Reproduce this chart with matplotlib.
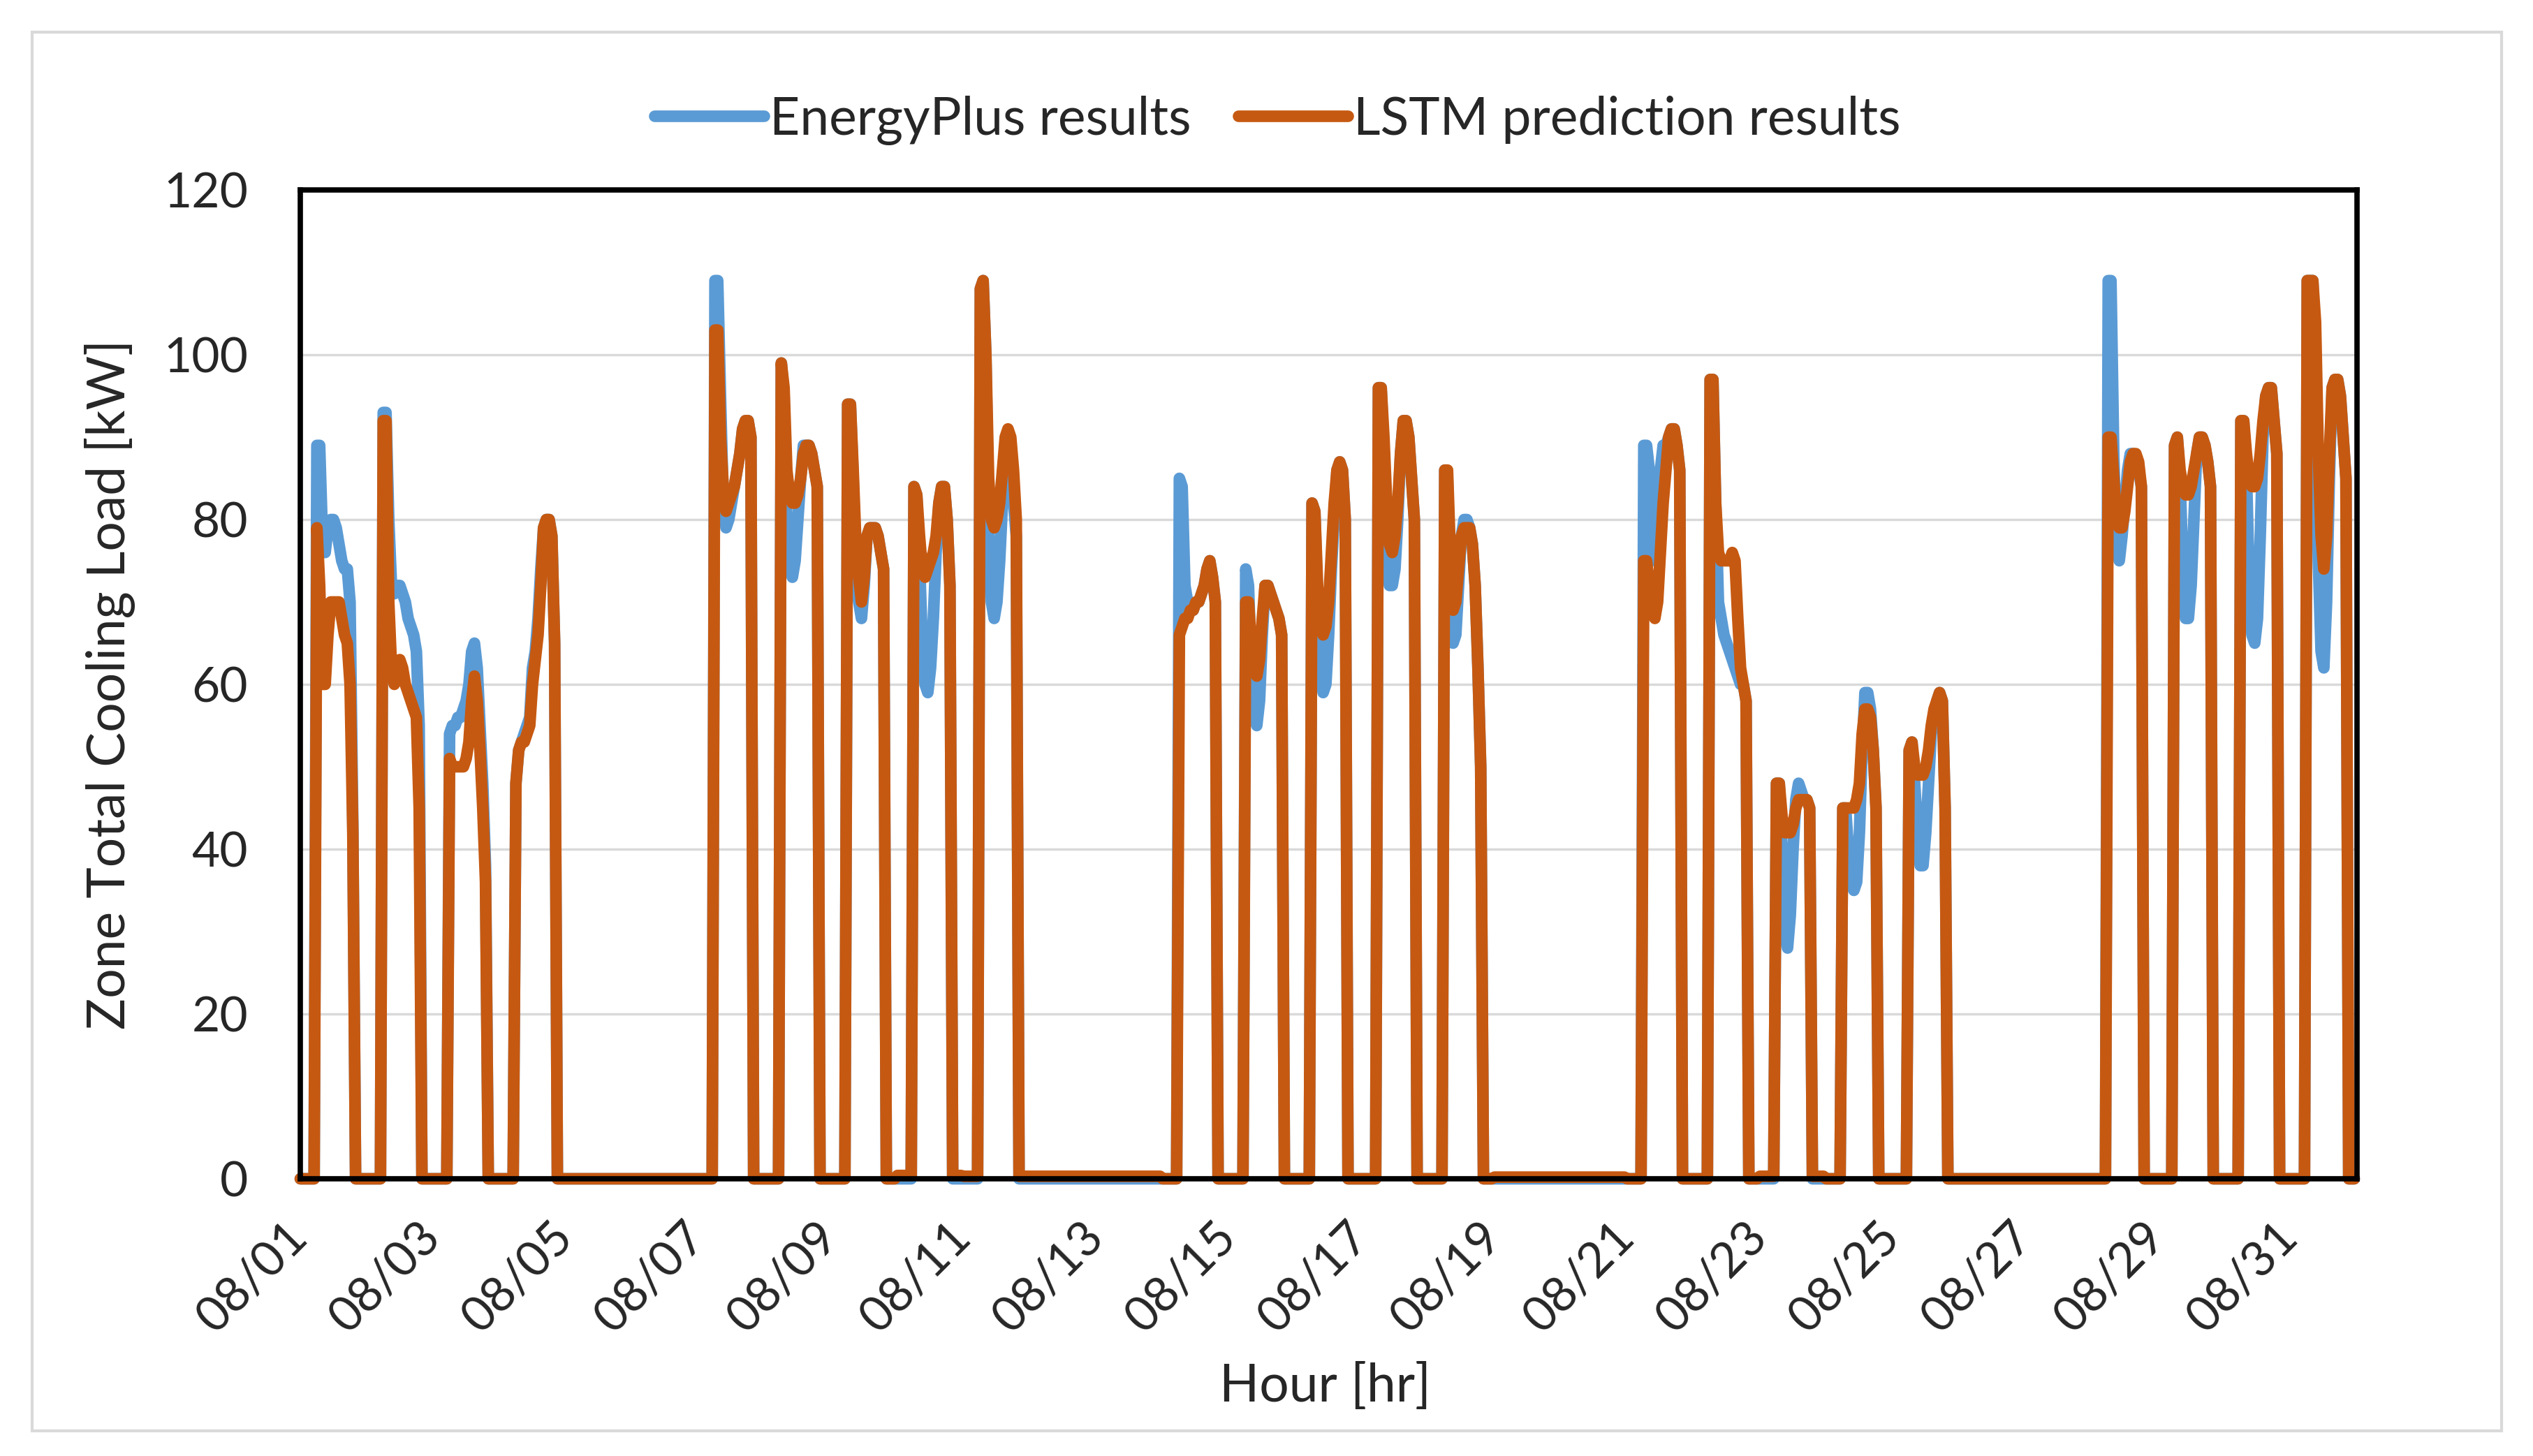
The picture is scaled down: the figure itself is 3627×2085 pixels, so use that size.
import numpy as np
import matplotlib
matplotlib.use("Agg")
import matplotlib.pyplot as plt
from matplotlib.patches import Rectangle

plt.rcParams['font.family'] = ['Lato', 'DejaVu Sans']

# August, hourly (744 h). Cooling runs on weekdays from about 06:00
work_days = [1, 2, 3, 4, 7, 8, 9, 10, 11, 14, 15, 16, 17, 18, 21, 22, 23, 24, 25, 28, 29, 30, 31]
first_hour = [6] * len(work_days)

# EnergyPlus zone total cooling load [kW], hours from first_hour on
eplus_days = [
    [89, 89, 78, 76, 79, 80, 80, 79, 77, 75, 74, 74, 70, 43],
    [93, 93, 80, 72, 71, 72, 72, 71, 70, 68, 67, 66, 64, 55],
    [54, 55, 55, 56, 56, 57, 58, 60, 64, 65, 62, 55, 48, 38],
    [48, 52, 53, 54, 55, 56, 62, 64, 68, 74, 79, 80, 80, 78, 65],
    [109, 109, 95, 82, 79, 80, 82, 84, 86, 88, 91, 92, 92, 90],
    [99, 95, 80, 74, 73, 75, 80, 85, 89, 89, 89, 88, 86, 84],
    [94, 94, 85, 75, 70, 68, 72, 78, 79, 79, 79, 78, 76, 74],
    [84, 83, 75, 65, 60, 59, 62, 68, 76, 82, 84, 84, 80, 72],
    [108, 109, 100, 80, 70, 68, 70, 75, 82, 86, 86, 85, 82, 78],
    [85, 84, 72, 70, 69, 69, 70, 70, 71, 72, 74, 75, 73, 70],
    [74, 72, 62, 56, 55, 58, 66, 72, 72, 71, 70, 69, 68, 66],
    [82, 81, 70, 62, 59, 60, 66, 74, 80, 86, 87, 86, 80],
    [96, 96, 88, 76, 72, 72, 74, 80, 88, 92, 92, 90, 85, 80],
    [86, 85, 72, 65, 66, 72, 78, 80, 80, 79, 77, 72, 62, 50],
    [89, 89, 86, 76, 75, 80, 86, 89, 89, 90, 91, 91, 89, 86],
    [97, 97, 82, 70, 68, 66, 65, 64, 63, 62, 61, 60, 60, 58],
    [48, 48, 40, 30, 28, 32, 40, 46, 48, 47, 46, 46, 45],
    [45, 45, 40, 36, 35, 36, 42, 52, 59, 59, 57, 52, 45],
    [52, 53, 48, 42, 38, 38, 42, 48, 54, 56, 58, 59, 58, 45],
    [109, 109, 88, 76, 75, 78, 82, 86, 88, 88, 87, 86, 84],
    [89, 90, 85, 74, 68, 68, 72, 80, 88, 90, 90, 89, 87, 84],
    [92, 92, 86, 72, 66, 65, 68, 78, 90, 95, 96, 96, 92, 88],
    [109, 109, 109, 100, 75, 64, 62, 70, 85, 96, 97, 97, 95, 90, 85],
]

# LSTM prediction [kW]
lstm_days = [
    [79, 72, 60, 60, 66, 70, 70, 70, 70, 68, 66, 65, 60, 42],
    [92, 92, 70, 62, 60, 62, 63, 62, 60, 59, 58, 57, 56, 45],
    [51, 50, 50, 50, 50, 50, 51, 53, 58, 61, 58, 52, 45, 36],
    [48, 52, 53, 53, 54, 55, 60, 63, 66, 72, 79, 80, 80, 78, 65],
    [103, 103, 90, 84, 81, 82, 83, 84, 86, 88, 91, 92, 92, 90],
    [99, 96, 86, 83, 82, 82, 83, 85, 88, 89, 89, 88, 86, 84],
    [94, 94, 86, 77, 73, 70, 73, 78, 79, 79, 79, 78, 76, 74],
    [84, 83, 78, 74, 73, 74, 75, 76, 78, 82, 84, 84, 80, 72],
    [108, 109, 100, 85, 80, 79, 80, 82, 86, 90, 91, 90, 86, 80],
    [66, 67, 68, 68, 69, 69, 70, 70, 71, 72, 74, 75, 73, 70],
    [70, 70, 65, 62, 61, 63, 68, 72, 72, 71, 70, 69, 68, 66],
    [82, 81, 72, 67, 66, 67, 70, 76, 82, 86, 87, 86, 80],
    [96, 96, 90, 82, 77, 76, 78, 82, 88, 92, 92, 90, 85, 80],
    [86, 86, 76, 69, 70, 74, 78, 79, 79, 79, 77, 72, 62, 50],
    [75, 75, 72, 69, 68, 70, 76, 82, 86, 90, 91, 91, 89, 86],
    [97, 97, 82, 76, 75, 75, 75, 75, 76, 75, 68, 62, 60, 58],
    [48, 48, 44, 42, 42, 42, 43, 45, 46, 46, 46, 46, 45],
    [45, 45, 45, 45, 45, 46, 48, 54, 57, 57, 56, 52, 45],
    [52, 53, 50, 49, 49, 49, 50, 52, 55, 57, 58, 59, 58, 45],
    [90, 90, 85, 80, 79, 79, 81, 84, 87, 88, 88, 87, 84],
    [89, 90, 86, 84, 83, 83, 84, 86, 88, 90, 90, 89, 87, 84],
    [92, 92, 88, 85, 84, 84, 85, 88, 92, 95, 96, 96, 92, 88],
    [109, 109, 109, 104, 88, 78, 74, 78, 88, 96, 97, 97, 95, 90, 85],
]

# small residual the LSTM gives outside operating hours, per day of month
lstm_idle = [0, 0, 0, 0, 0, 0, 0, 0, 0, 0.4, 0.3, 0.3, 0.3, 0, 0, 0,
             0, 0, 0.2, 0.2, 0, 0, 0.3, 0, 0, 0, 0, 0, 0, 0, 0]

tick_hours = [0, 48, 96, 144, 192, 240, 288, 336, 384, 432, 480, 528, 576, 624, 672, 720]
tick_labels = ['08/01', '08/03', '08/05', '08/07', '08/09', '08/11', '08/13', '08/15',
               '08/17', '08/19', '08/21', '08/23', '08/25', '08/27', '08/29', '08/31']

n_hours = 31 * 24
hours = np.arange(n_hours)
eplus = np.zeros(n_hours)
lstm = np.zeros(n_hours)
for d in range(31):
    lstm[d * 24:(d + 1) * 24] = lstm_idle[d]
for d, h0, e, l in zip(work_days, first_hour, eplus_days, lstm_days):
    base = (d - 1) * 24 + h0
    eplus[base:base + len(e)] = e
    lstm[base:base + len(l)] = l

W, H = 3627, 2085
fig = plt.figure(figsize=(W / 100, H / 100), dpi=100)
fig.patches.append(Rectangle((46 / W, 1 - 2049 / H), (3582 - 46) / W, (2049 - 46) / H,
                             transform=fig.transFigure, fill=False,
                             edgecolor='#d9d9d9', lw=3))

ax = fig.add_axes([430 / W, 1 - 1688 / H, (3375 - 430) / W, (1688 - 272) / H])
lw = 12
ax.plot(hours, eplus, color='#5B9BD5', lw=lw, solid_joinstyle='round',
        solid_capstyle='round', clip_on=False, label='EnergyPlus results')
ax.plot(hours, lstm, color='#C65911', lw=lw, solid_joinstyle='round',
        solid_capstyle='round', clip_on=False, label='LSTM prediction results')

ax.set_xlim(0, n_hours)
ax.set_ylim(0, 120)
ax.set_yticks(range(0, 121, 20))
ax.set_xticks(tick_hours)
ax.set_xticklabels(tick_labels, rotation=45, ha='right', va='center',
                   rotation_mode='anchor')
ax.tick_params(axis='both', length=0, labelsize=50, colors='#262626')
ax.tick_params(axis='y', pad=54)
ax.tick_params(axis='x', pad=52)
ax.yaxis.grid(True, color='#d9d9d9', lw=2.5)
ax.set_axisbelow(True)
for s in ax.spines.values():
    s.set_color('black')
    s.set_linewidth(5.5)

fig.text(158 / W, 1 - 980 / H, 'Zone Total Cooling Load [kW]', rotation=90,
         ha='center', va='center', fontsize=54, color='#262626')
fig.text(1897 / W, 1 - 1985 / H, 'Hour [hr]', ha='center', va='center',
         fontsize=54, color='#262626')

fig.legend(loc='center', bbox_to_anchor=(1829 / W, 1 - 172 / H), ncol=2,
           frameon=False, fontsize=54, handlelength=2.1, handletextpad=0.1,
           columnspacing=0.9, labelcolor='#262626')

fig.savefig('out.png', dpi=100)
